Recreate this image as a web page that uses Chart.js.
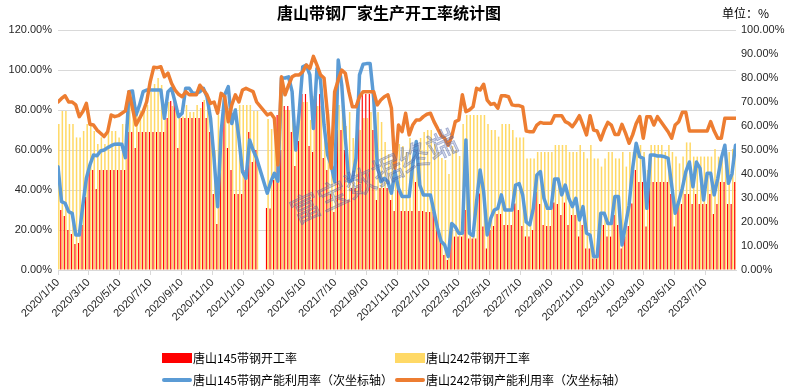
<!DOCTYPE html>
<html>
<head>
<meta charset="utf-8">
<title>唐山带钢厂家生产开工率统计图</title>
<script src="https://cdn.jsdelivr.net/npm/chart.js@4.4.1/dist/chart.umd.min.js"></script>
<style>
    html, body { margin: 0; padding: 0; background: #fff; }
    #wrap { position: relative; width: 791px; height: 389px; }
    #legend {
        position: absolute; left: 162px; top: 349px;
        display: grid; grid-template-columns: 233px 260px; row-gap: 5px;
        font: 12px "Noto Sans CJK SC", sans-serif; color: #000; line-height: 17px;
    }
    .item { display: flex; align-items: center; white-space: nowrap; }
    .sw { width: 30px; margin-right: 1px; }
</style>
</head>
<body>
<div id="wrap">
    <canvas id="chart" width="791" height="389"></canvas>
    <div id="legend"></div>
</div>
<script>
// x轴刻度标签
const tickLabels = ['2020/1/10', '2020/3/10', '2020/5/10', '2020/7/10', '2020/9/10', '2020/11/10',
    '2021/1/10', '2021/3/10', '2021/5/10', '2021/7/10', '2021/9/10', '2021/11/10',
    '2022/1/10', '2022/3/10', '2022/5/10', '2022/7/10', '2022/9/10', '2022/11/10',
    '2023/1/10', '2023/3/10', '2023/5/10', '2023/7/10'];

// 周数据：从2020/1/10起每周一期，春节两周无数据
const firstWeek = '2020/1/10';
const weekCount = 192;
const skippedWeeks = ['2021/2/12', '2021/2/19'];

// 唐山145带钢开工率 (左轴, %)
const red145 = [
    45, 30, 27, 20, 18, 13, 13.5, 22.5, 36.5, 50,
    50, 40.5, 50, 50, 50, 50, 50, 50, 50, 50,
    69, 69, 61, 69, 69, 69, 69, 69, 69, 69,
    69, 76, 84.5, 84.5, 61, 76, 76, 76, 76, 76,
    76, 84, 76, 69, 38, 23, 61, 84, 61, 50,
    38, 38, 38, 50, 69, 54, 60, 31,
    30.7, 45, 77.5, 60, 82, 82, 69, 52, 64.5, 88,
    88, 62, 59, 88, 88, 56, 50, 38, 29, 70,
    70, 60, 35, 41, 41, 88, 88, 88, 88, 70,
    35, 41, 41, 41, 35, 29.5, 41, 29.5, 29.5, 29.5,
    29.5, 44, 29.5, 29.5, 29, 29, 29, 23.3, 16, 7.5,
    5, 20, 16.7, 16.7, 16.7, 30, 15.8, 15.8, 15.8, 38.3,
    21.7, 10.8, 20, 22, 28, 28, 22.5, 22.5, 22.5, 33.3,
    30, 22, 16.7, 16.7, 20, 39, 33, 22.5, 22, 22,
    33.7, 33, 27.5, 33.7, 22.5, 27.5, 27.5, 16.7, 22.5, 10.8,
    10.8, 5.8, 5.8, 22.5, 22.5, 16.7, 16.7, 27.5, 22.5, 10.8,
    16.7, 22, 33.3, 50, 44, 44, 21.7, 44, 44, 44,
    44, 44, 44, 38, 21.7, 33, 33, 38, 38, 33,
    38, 33, 33, 33, 38, 28, 33, 44, 44, 33,
    33, 44
];

// 唐山242带钢开工率 (左轴, %)
const yellow242 = [
    73, 79.5, 79.5, 73, 73, 66.3, 66.3, 69.5, 73, 73,
    69.5, 63, 66.3, 63, 69.5, 69.5, 69.5, 66.3, 73, 73,
    86, 79.5, 79.5, 79.5, 79.5, 82.5, 89, 93, 96, 92.5,
    80, 84, 82, 82.5, 77.5, 76.7, 82.5, 79, 79, 82.5,
    81, 85, 81, 76, 60, 77.5, 77.5, 84, 81, 74,
    81, 82.5, 82.5, 82.5, 82.5, 79.5, 79.5, 75.5,
    70.5, 72, 77.5, 93, 80, 80, 82.5, 62, 79, 84,
    84, 75, 87, 82, 82, 70, 78, 58, 62, 82.5,
    82.5, 72, 79, 66, 60, 70, 76, 76, 79, 79,
    79, 74, 64, 58, 55, 48, 63, 62, 59, 66,
    56, 58, 66, 69, 70, 70, 63, 59, 56, 55,
    48, 62, 60, 57, 73, 77.5, 77.5, 77.5, 77.5, 77.5,
    77.5, 73, 70, 70, 66.7, 73, 73, 73, 70, 66.3,
    66.3, 66.3, 55.8, 55.8, 55.8, 59, 59, 59, 59, 59,
    62.5, 62.5, 62.5, 62.5, 59, 59, 59, 62.5, 59, 55.8,
    62.5, 55.8, 55.8, 51.7, 55.8, 59, 59, 55.8, 55.8, 59,
    51.7, 59, 59, 59, 62.5, 59, 50, 62.5, 62.5, 62.5,
    62.5, 59, 62.5, 59, 56.7, 53.3, 56.7, 63.8, 63.8, 56.7,
    56.7, 56.7, 56.7, 56.7, 56.7, 60.5, 56.7, 56.7, 56.7, 59,
    60.5, 60.5
];

// 唐山145带钢产能利用率 (右轴, %)
const blue145 = [
    43, 28.5, 27.8, 24.3, 23.6, 14.6, 14.6, 27, 38.2, 43.8,
    47.9, 47.6, 49.6, 50, 51, 51.8, 52.4, 52.5, 52.4, 46.8,
    74.3, 74.6, 64.6, 68.8, 74.3, 75, 75, 75, 75, 75,
    63.2, 74.3, 75.7, 70, 63.9, 65.3, 75.7, 75.7, 73.6, 73.6,
    74.3, 75.7, 72.2, 63.2, 46.5, 26.4, 57.6, 73, 76.4, 61,
    66.7, 54.9, 41, 38.2, 54.2, 50, 46.5, 32,
    36.8, 40.3, 37, 80, 80, 80.5, 74.3, 50, 66, 84.7,
    85.4, 81.3, 59, 84, 79.2, 60.4, 48, 43.8, 36.8, 87.5,
    77, 55, 36.8, 37.5, 46.5, 81.3, 85.7, 86, 86, 71.5,
    43.8, 36.8, 38.2, 36.8, 32, 41, 34, 30.6, 30.6, 30.6,
    43.8, 53.5, 35.4, 31.3, 31.3, 31.3, 24.3, 17.4, 12, 10.4,
    5.6, 19.4, 18, 15.3, 15.3, 54.2, 15.3, 14.3, 28.5, 41.7,
    32.6, 14.6, 21.5, 25, 25.7, 31.3, 25, 25, 25, 35.4,
    36, 31.3, 20, 18.8, 25.7, 39.6, 41, 29.9, 25.7, 25.7,
    37.9, 37.9, 31.3, 35.4, 29.9, 26.4, 29.9, 20.8, 26.4, 15.3,
    14.6, 5.6, 5.6, 23.6, 23.6, 19.4, 19.4, 30.6, 30.6, 10.4,
    18.8, 27, 42.4, 52.8, 47.2, 46.5, 25.7, 47.9, 47.9, 47.5,
    47.5, 47.2, 46.5, 35.4, 23.6, 28.5, 34, 41, 45, 34.7,
    45, 42.4, 29.2, 40.3, 40.3, 31.3, 38.2, 46.5, 52, 36.1,
    40, 52
];

// 唐山242带钢产能利用率 (右轴, %)
const orange242 = [
    70, 71.5, 72.6, 70, 70, 68.8, 63.9, 66, 69.4, 60.7,
    60.4, 58.3, 57, 55.6, 57.6, 64.6, 63.9, 64.3, 65.3, 66.3,
    74.3, 67.4, 60.4, 63.2, 66, 70.1, 78.5, 84.5, 84.3, 84.7,
    80.5, 82, 77.8, 75, 73.2, 72.2, 74.3, 73, 73, 73,
    77, 75, 73, 69.4, 70, 65.3, 73.6, 72.2, 61.8, 68.8,
    73, 70, 75, 75.7, 75, 74.3, 70, 64.6,
    65.3, 63.2, 43.8, 80.5, 73, 77, 80.5, 81.3, 81.3, 82.6,
    85.4, 84, 89, 85.4, 81.3, 80, 64.6, 42.4, 74.3, 79.2,
    83.3, 82, 74.3, 68, 68, 72.2, 74.3, 74.3, 74.3, 74.3,
    68.8, 70.8, 72.2, 73, 67.4, 42.4, 60.4, 57.6, 65.3, 56.3,
    60.4, 62.5, 62.5, 63.9, 64.9, 65.3, 61.8, 59, 56, 54.9,
    52, 55.6, 61.8, 62.5, 73, 66, 66.7, 68, 75.7, 75,
    77.4, 70.8, 69, 69.4, 67.4, 72.6, 72.6, 72.2, 68.8, 68.5,
    68.5, 68, 57.9, 57.6, 57.6, 60.4, 61.5, 61.1, 61.1, 61.1,
    64.3, 64.3, 64.3, 61.8, 61.1, 59.7, 61.8, 64.3, 60.4, 56.3,
    64.3, 58.3, 57.9, 54.2, 58.3, 61.5, 60.4, 56.5, 56.5, 60.7,
    57, 52.8, 56.3, 61, 63.9, 54.9, 63.9, 63.9, 60.4, 63.9,
    61.8, 59.7, 57.6, 54.9, 60.4, 61.8, 65.7, 65.7, 57.9, 57.9,
    57.9, 57.9, 57.9, 57.9, 61.8, 57.9, 54.9, 54.9, 63.2, 63.2,
    63.2, 63.2
];

const colors = { red: '#ff0000', yellow: '#ffd966', blue: '#5b9bd5', orange: '#ed7d31' };
const gridColor = '#d9d9d9';

function dayOf(s) {
    const p = s.split('/').map(Number);
    const q = firstWeek.split('/').map(Number);
    return Math.round((Date.UTC(p[0], p[1] - 1, p[2]) - Date.UTC(q[0], q[1] - 1, q[2])) / 86400000);
}

const skipDays = skippedWeeks.map(dayOf);
const weekDays = [];
for (let i = 0; i < weekCount; i++) {
    if (!skipDays.includes(i * 7)) weekDays.push(i * 7);
}
const tickDays = tickLabels.map(dayOf);
const pts = arr => weekDays.map((d, k) => ({ x: d, y: arr[k] }));

// 标题、单位、水印
const decor = {
    id: 'decor',
    afterDatasetsDraw(chart) {
        const ctx = chart.ctx;
        ctx.save();
        ctx.translate(292, 214);
        ctx.rotate(-25 * Math.PI / 180);
        ctx.font = '30px "Noto Sans CJK SC"';
        ctx.fillStyle = 'rgba(90,110,175,0.28)';
        ctx.strokeStyle = 'rgba(70,90,160,0.45)';
        ctx.lineWidth = 0.8;
        ctx.textBaseline = 'middle';
        ctx.fillText('富宝数据终端', 0, 0);
        ctx.strokeText('富宝数据终端', 0, 0);
        ctx.restore();
    },
    afterDraw(chart) {
        const ctx = chart.ctx;
        ctx.save();
        ctx.fillStyle = '#000';
        ctx.textBaseline = 'middle';
        ctx.textAlign = 'center';
        ctx.font = 'bold 16px "Noto Sans CJK SC"';
        ctx.fillText('唐山带钢厂家生产开工率统计图', 389, 13);
        ctx.textAlign = 'left';
        ctx.font = '12px "Noto Sans CJK SC"';
        ctx.fillText('单位：%', 722, 13);
        ctx.restore();
    }
};

const tickFont = { family: '"Liberation Sans", Arial', size: 11 };

const ctx = document.getElementById('chart').getContext('2d');
const myChart = new Chart(ctx, {
    type: 'bar',
    data: {
        datasets: [
            {
                type: 'line', label: '唐山242带钢产能利用率（次坐标轴）', data: pts(orange242),
                yAxisID: 'y1', borderColor: colors.orange, backgroundColor: colors.orange,
                borderWidth: 3.5, pointRadius: 0, tension: 0, order: 0,
                borderJoinStyle: 'round', borderCapStyle: 'round'
            },
            {
                type: 'line', label: '唐山145带钢产能利用率（次坐标轴）', data: pts(blue145),
                yAxisID: 'y1', borderColor: colors.blue, backgroundColor: colors.blue,
                borderWidth: 3.5, pointRadius: 0, tension: 0, order: 1,
                borderJoinStyle: 'round', borderCapStyle: 'round'
            },
            {
                label: '唐山145带钢开工率', data: pts(red145), yAxisID: 'y',
                backgroundColor: colors.red, order: 2,
                categoryPercentage: 0.9, barPercentage: 0.72
            },
            {
                label: '唐山242带钢开工率', data: pts(yellow242), yAxisID: 'y',
                backgroundColor: colors.yellow, order: 3,
                categoryPercentage: 0.9, barPercentage: 0.95
            }
        ]
    },
    options: {
        responsive: false,
        animation: false,
        layout: { padding: { top: 30, left: 0, right: 0, bottom: 0 } },
        plugins: { legend: { display: false }, title: { display: false }, tooltip: { enabled: false } },
        scales: {
            x: {
                type: 'linear', min: 0, max: 1338, offset: false,
                afterBuildTicks: axis => { axis.ticks = tickDays.map(v => ({ value: v })); },
                afterFit: s => { s.height = 119; },
                ticks: {
                    autoSkip: false, minRotation: 45, maxRotation: 45, padding: 1,
                    color: '#262626', font: tickFont,
                    callback: (v, i) => tickLabels[i]
                },
                grid: { drawOnChartArea: false, drawTicks: true, tickLength: 5, color: gridColor, offset: false },
                border: { display: true, color: gridColor }
            },
            y: {
                position: 'left', min: 0, max: 120,
                afterFit: s => { s.width = 58; },
                ticks: { stepSize: 20, padding: 6, color: '#262626', font: tickFont, callback: v => v.toFixed(2) + '%' },
                grid: { color: gridColor, drawTicks: false },
                border: { display: false }
            },
            y1: {
                position: 'right', min: 0, max: 100,
                afterFit: s => { s.width = 55; },
                ticks: { stepSize: 10, padding: 5, color: '#262626', font: tickFont, callback: v => v.toFixed(2) + '%' },
                grid: { display: false, drawTicks: false },
                border: { display: false }
            }
        }
    },
    plugins: [decor]
});

// 图例（两列两行）
const legendOrder = [2, 3, 1, 0];
const legendBox = document.getElementById('legend');
legendOrder.forEach(idx => {
    const ds = myChart.data.datasets[idx];
    const item = document.createElement('div');
    item.className = 'item';
    const sw = document.createElement('span');
    sw.className = 'sw';
    sw.style.background = ds.backgroundColor;
    sw.style.height = ds.type === 'line' ? '4px' : '10px';
    if (ds.type === 'line') sw.style.borderRadius = '2px';
    item.appendChild(sw);
    item.appendChild(document.createTextNode(ds.label));
    legendBox.appendChild(item);
});
</script>
</body>
</html>
